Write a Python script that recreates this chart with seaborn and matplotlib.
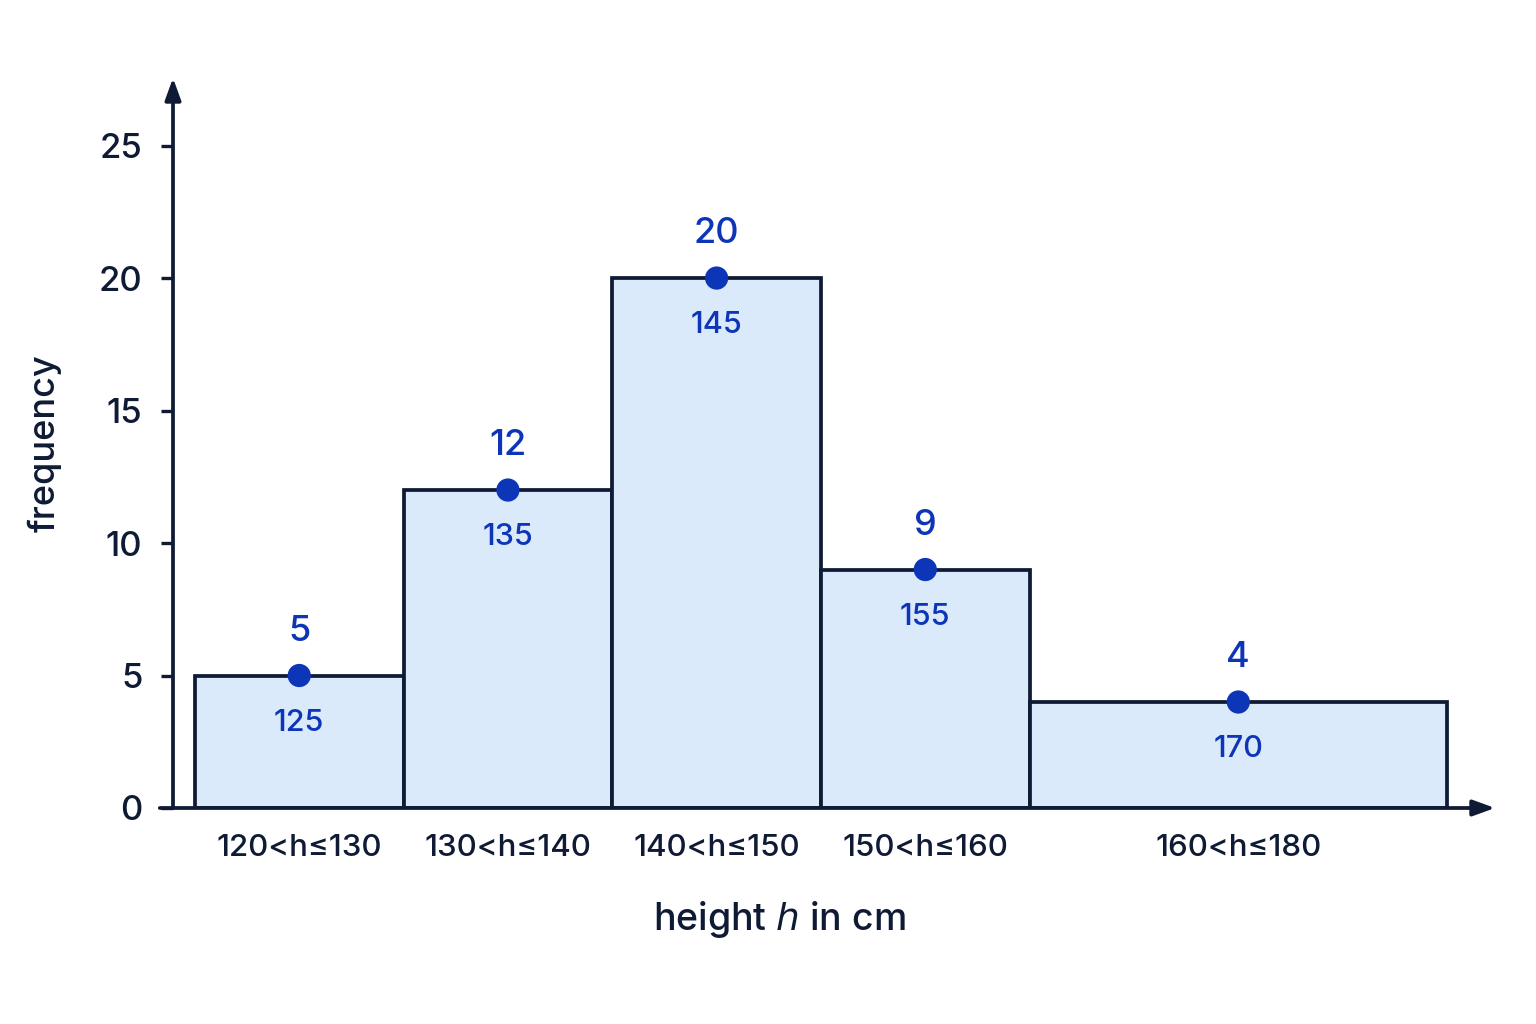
import numpy as np
import pandas as pd
import seaborn as sns
from matplotlib import pyplot as plt

# 数据
class_edges = [120, 130, 140, 150, 160, 180]
midpoints = [125, 135, 145, 155, 170]
frequencies = [5, 12, 20, 9, 4]
class_labels = ['120<h≤130', '130<h≤140', '140<h≤150', '150<h≤160', '160<h≤180']
y_ticks = [0, 5, 10, 15, 20, 25]

NAVY = '#0f1b35'
BLUE = '#0c35b8'
FILL = '#dbeafb'

sns.set_theme(style='white')
plt.rcParams['font.family'] = ['Inter', 'DejaVu Sans']

df = pd.DataFrame({'h': midpoints, 'freq': frequencies})

fig = plt.figure(figsize=(15.36, 10.24), dpi=100)
ax = fig.add_axes([173 / 1536, 1 - 808 / 1024, (1495 - 173) / 1536, (808 - 78) / 1024])

sns.histplot(data=df, x='h', weights='freq', bins=class_edges, stat='count',
             color=FILL, alpha=1, edgecolor=NAVY, linewidth=2.7, ax=ax, zorder=2)
sns.scatterplot(data=df, x='h', y='freq', color=BLUE, s=280, edgecolor='none',
                ax=ax, zorder=4, clip_on=False)

for m, f in zip(midpoints, frequencies):
    ax.annotate(str(f), (m, f), xytext=(0, 32), textcoords='offset points',
                ha='center', va='center', fontsize=26, color=BLUE, fontweight='medium')
    ax.annotate(str(m), (m, f), xytext=(0, -34), textcoords='offset points',
                ha='center', va='center', fontsize=22, color=BLUE, fontweight='medium')

ax.set_xlim(118.95, 182.3)
ax.set_ylim(0, 27.55)

# 坐标轴箭头
for s in ax.spines.values():
    s.set_visible(False)
ax.annotate('', xy=(0, 1), xytext=(0, 0), xycoords='axes fraction',
            arrowprops=dict(arrowstyle='-|>,head_length=1.1,head_width=0.4',
                            color=NAVY, lw=2.7, shrinkA=0, shrinkB=0), zorder=5)
ax.annotate('', xy=(1, 0), xytext=(-0.01, 0), xycoords='axes fraction',
            arrowprops=dict(arrowstyle='-|>,head_length=1.1,head_width=0.4',
                            color=NAVY, lw=2.7, shrinkA=0, shrinkB=0), zorder=5)

ax.set_yticks(y_ticks)
ax.set_yticklabels([str(t) for t in y_ticks], fontweight='medium')
ax.tick_params(axis='y', length=9, width=2.4, color=NAVY, pad=13,
               labelsize=25, labelcolor=NAVY, left=True)
ax.set_xticks(midpoints)
ax.set_xticklabels(class_labels, fontweight='medium')
ax.tick_params(axis='x', length=0, pad=19, labelsize=22.5, labelcolor=NAVY)

ax.set_xlabel('height $\\it{h}$ in cm', fontsize=27, color=NAVY, fontweight='medium')
ax.xaxis.set_label_coords(0.459, -0.125)
ax.set_ylabel('frequency', fontsize=26, color=NAVY, fontweight='medium')
ax.yaxis.set_label_coords(-0.084, 0.5)

fig.savefig('out.png', dpi=100, facecolor='white')
